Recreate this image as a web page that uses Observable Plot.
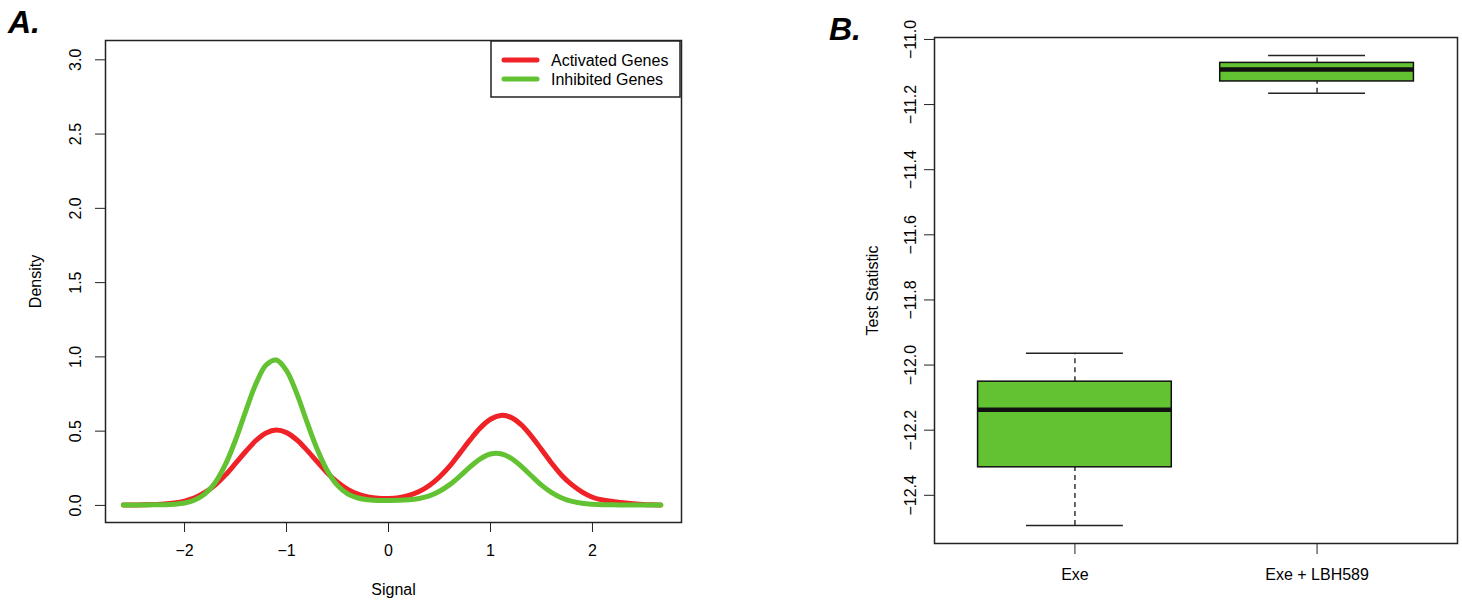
<!DOCTYPE html>
<html><head><meta charset="utf-8">
<script src="https://cdn.jsdelivr.net/npm/d3@7"></script>
<script src="https://cdn.jsdelivr.net/npm/@observablehq/plot@0.6"></script>
<style>
body{margin:0;background:#fff;width:1462px;height:600px;overflow:hidden;position:relative;font-family:"Liberation Sans",Arial,sans-serif;}
#a{position:absolute;left:0;top:0}
#b{position:absolute;left:760px;top:0}
#overlay{position:absolute;left:0;top:0;pointer-events:none}
</style></head><body>
<div id="a"></div><div id="b"></div>
<svg id="overlay" width="1462" height="600"></svg>
<script>
// ---- Panel A data ----
const signal = [-2.6,-2.5,-2.4,-2.3,-2.2,-2.1,-2.0,-1.9,-1.8,-1.7,-1.6,-1.5,-1.4,-1.3,-1.2,-1.1,-1.0,-0.9,-0.8,-0.7,-0.6,-0.5,-0.4,-0.3,-0.2,-0.1,0.0,0.1,0.2,0.3,0.4,0.5,0.6,0.7,0.8,0.9,1.0,1.1,1.2,1.3,1.4,1.5,1.6,1.7,1.8,1.9,2.0,2.1,2.2,2.3,2.4,2.5,2.6,2.67];
const activated = [0.003,0.003,0.004,0.006,0.009,0.016,0.029,0.051,0.087,0.137,0.204,0.283,0.363,0.437,0.488,0.507,0.490,0.442,0.372,0.295,0.219,0.156,0.108,0.076,0.057,0.048,0.047,0.052,0.067,0.093,0.134,0.191,0.264,0.352,0.441,0.522,0.580,0.606,0.593,0.544,0.467,0.377,0.284,0.202,0.138,0.090,0.055,0.036,0.027,0.018,0.011,0.006,0.004,0.003];
const inhibited = [0.003,0.003,0.003,0.004,0.005,0.008,0.016,0.036,0.078,0.153,0.274,0.440,0.635,0.819,0.945,0.979,0.907,0.754,0.562,0.380,0.234,0.135,0.078,0.050,0.038,0.033,0.033,0.034,0.038,0.047,0.064,0.095,0.140,0.197,0.259,0.313,0.346,0.348,0.319,0.265,0.200,0.137,0.086,0.050,0.027,0.014,0.008,0.005,0.004,0.003,0.003,0.003,0.003,0.003];
const seriesNames = ["Activated Genes", "Inhibited Genes"];
const densityTicks = [0, 0.5, 1.0, 1.5, 2.0, 2.5, 3.0];
const signalTicks = [-2, -1, 0, 1, 2];

// ---- Panel B data ----
const groups = ["Exe", "Exe + LBH589"];
const whiskerLow = [-12.493, -11.165];
const q1 = [-12.314, -11.129];
const median = [-12.137, -11.092];
const q3 = [-12.051, -11.072];
const whiskerHigh = [-11.964, -11.049];
const statTicks = [-11.0, -11.2, -11.4, -11.6, -11.8, -12.0, -12.2, -12.4];

const RED = "#ee2227", GREEN = "#62c232";
const FONT = "Liberation Sans, Arial, sans-serif";
const FS = 16;
const fmt1 = d3.format(".1f");

const redData = signal.map((x, i) => ({x, y: activated[i]}));
const greenData = signal.map((x, i) => ({x, y: inhibited[i]}));

const plotA = Plot.plot({
  width: 700, height: 600,
  marginLeft: 105, marginRight: 19, marginTop: 40, marginBottom: 78,
  style: {fontFamily: FONT, fontSize: FS + "px", color: "#000", background: "transparent"},
  x: {domain: [-2.775, 2.873]},
  y: {domain: [-0.115, 3.13]},
  marks: [
    Plot.line(redData, {x: "x", y: "y", stroke: RED, strokeWidth: 5, curve: "catmull-rom", strokeLinecap: "round"}),
    Plot.line(greenData, {x: "x", y: "y", stroke: GREEN, strokeWidth: 5, curve: "catmull-rom", strokeLinecap: "round"}),
    Plot.frame({stroke: "#222", strokeWidth: 1.5}),
    Plot.axisX(signalTicks, {tickSize: 10, tickPadding: 12, fontSize: FS, label: null, stroke: "#222"}),
    Plot.text(["Signal"], {frameAnchor: "bottom", dy: 67, text: d => d, fontSize: FS, textAnchor: "middle", lineAnchor: "middle"}),
    Plot.axisY(densityTicks, {tickSize: 10, tickFormat: () => "", label: null, stroke: "#222"}),
    Plot.text(densityTicks, {y: d => d, text: d => fmt1(d), frameAnchor: "left", dx: -30, rotate: -90, fontSize: FS, textAnchor: "middle", lineAnchor: "middle"}),
    Plot.text(["Density"], {frameAnchor: "left", dx: -70, rotate: -90, text: d => d, fontSize: FS, textAnchor: "middle", lineAnchor: "middle"})
  ]
});
document.getElementById("a").appendChild(plotA);

const boxes = groups.map((g, i) => ({
  i: i + 1, g, lo: whiskerLow[i], q1: q1[i], med: median[i], q3: q3[i], hi: whiskerHigh[i]
}));

const plotB = Plot.plot({
  width: 702, height: 600,
  marginLeft: 174, marginRight: 5, marginTop: 37, marginBottom: 57,
  style: {fontFamily: FONT, fontSize: FS + "px", color: "#000", background: "transparent"},
  x: {domain: [0.42, 2.58]},
  y: {domain: [-12.548, -10.994]},
  marks: [
    Plot.ruleX(boxes, {x: "i", y1: "lo", y2: "q1", stroke: "#333", strokeWidth: 1.5, strokeDasharray: "5,4"}),
    Plot.ruleX(boxes, {x: "i", y1: "q3", y2: "hi", stroke: "#333", strokeWidth: 1.5, strokeDasharray: "5,4"}),
    Plot.ruleY(boxes, {y: "lo", x1: d => d.i - 0.2, x2: d => d.i + 0.2, stroke: "#222", strokeWidth: 1.5}),
    Plot.ruleY(boxes, {y: "hi", x1: d => d.i - 0.2, x2: d => d.i + 0.2, stroke: "#222", strokeWidth: 1.5}),
    Plot.rect(boxes, {x1: d => d.i - 0.4, x2: d => d.i + 0.4, y1: "q1", y2: "q3", fill: GREEN, stroke: "#111", strokeWidth: 1.5}),
    Plot.ruleY(boxes, {y: "med", x1: d => d.i - 0.4, x2: d => d.i + 0.4, stroke: "#111", strokeWidth: 4.5}),
    Plot.frame({stroke: "#222", strokeWidth: 1.5}),
    Plot.axisX([1, 2], {tickSize: 11, tickPadding: 14, tickFormat: d => groups[d - 1], fontSize: FS, label: null, stroke: "#222"}),
    Plot.axisY(statTicks, {tickSize: 10, tickFormat: () => "", label: null, stroke: "#222"}),
    Plot.text(statTicks, {y: d => d, text: d => fmt1(d), frameAnchor: "left", dx: -24, rotate: -90, fontSize: FS, textAnchor: "middle", lineAnchor: "middle"}),
    Plot.text(["Test Statistic"], {frameAnchor: "left", dx: -62, rotate: -90, text: d => d, fontSize: FS, textAnchor: "middle", lineAnchor: "middle"})
  ]
});
document.getElementById("b").appendChild(plotB);

// ---- overlay: panel letters and legend ----
const ov = d3.select("#overlay");
ov.append("text").attr("x", 8).attr("y", 33).text("A.")
  .attr("font-family", FONT).attr("font-size", 32).attr("font-weight", "bold").attr("font-style", "italic");
ov.append("text").attr("x", 829).attr("y", 40).text("B.")
  .attr("font-family", FONT).attr("font-size", 32).attr("font-weight", "bold").attr("font-style", "italic");
const lg = ov.append("g");
lg.append("rect").attr("x", 491).attr("y", 41).attr("width", 189).attr("height", 56)
  .attr("fill", "#fff").attr("stroke", "#222").attr("stroke-width", 1.5);
[RED, GREEN].forEach((c, k) => {
  const y = 60 + k * 19;
  lg.append("line").attr("x1", 504).attr("x2", 537).attr("y1", y).attr("y2", y)
    .attr("stroke", c).attr("stroke-width", 5).attr("stroke-linecap", "round");
  lg.append("text").attr("x", 551).attr("y", y).attr("dominant-baseline", "central")
    .attr("font-family", FONT).attr("font-size", FS).text(seriesNames[k]);
});
</script>
</body></html>
